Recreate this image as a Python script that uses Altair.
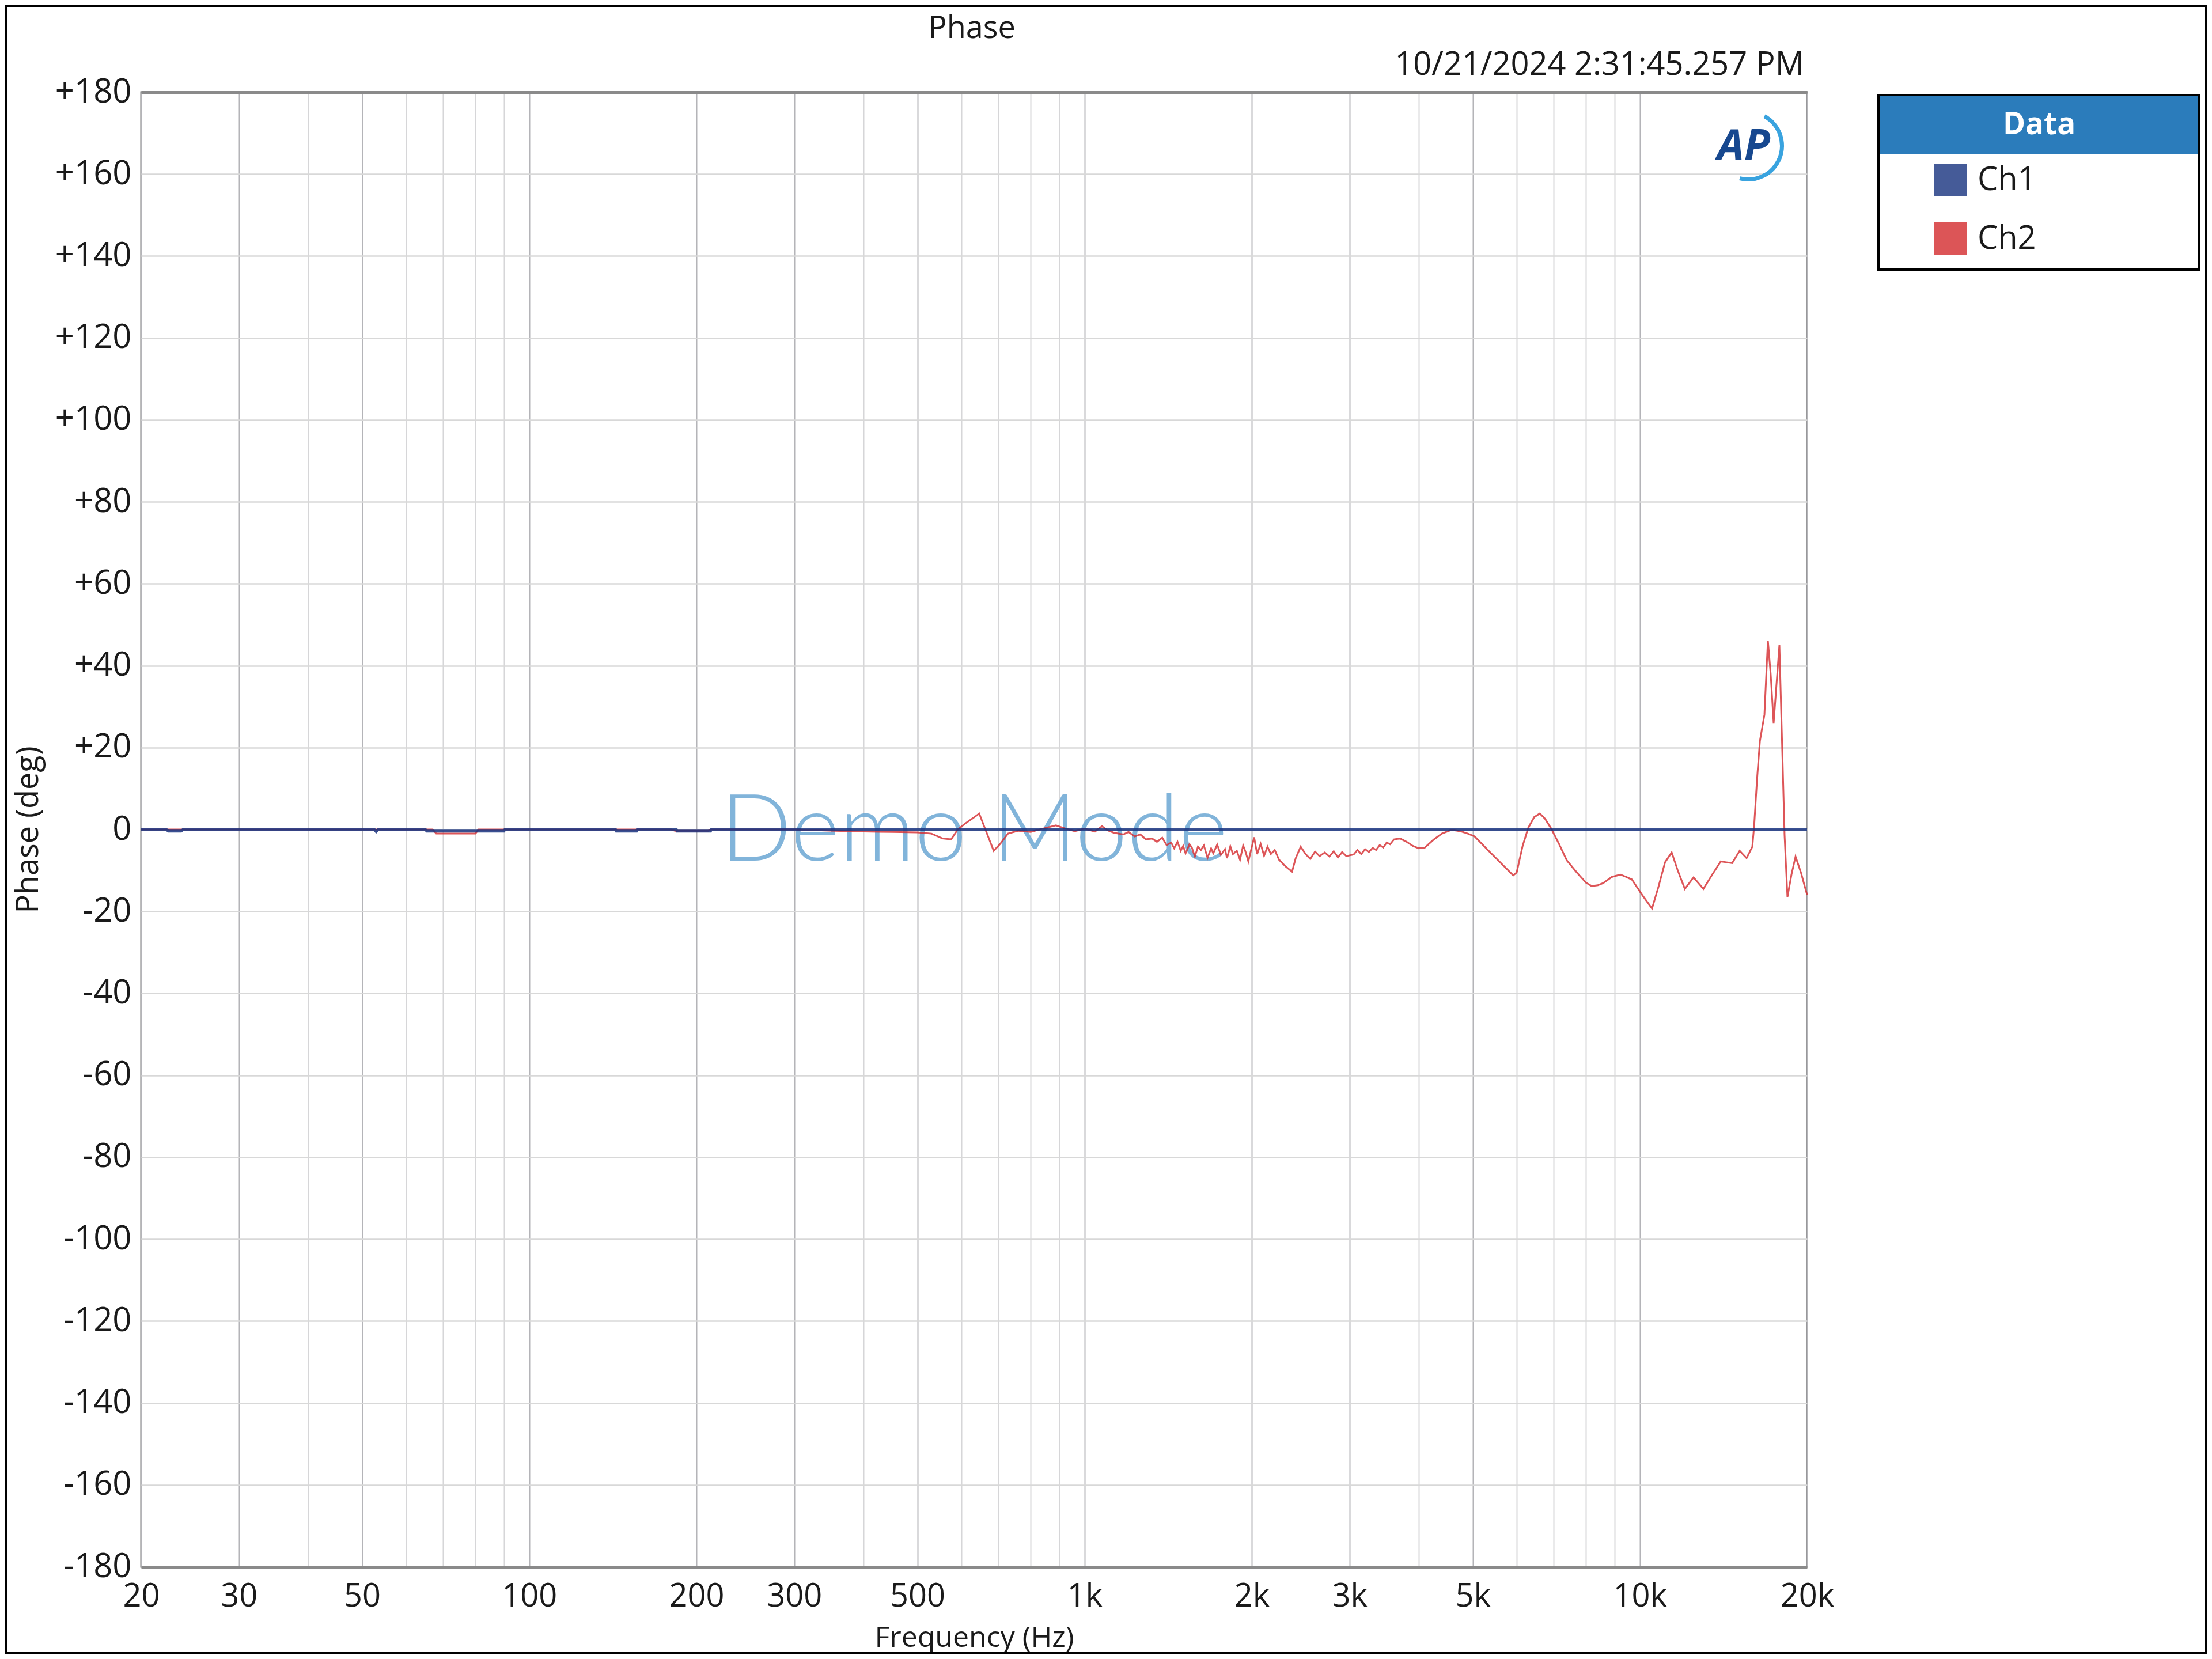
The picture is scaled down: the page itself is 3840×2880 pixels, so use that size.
import altair as alt
import pandas as pd

# ---------------- data ----------------
CH1_FREQ = [20, 22.2, 22.4, 23.6, 23.8, 52.6, 53, 53.4, 65, 65.4, 90, 90.4,
            143, 143.5, 156, 156.5, 184, 184.5, 212, 212.5, 20000]
CH1_PHASE = [0, 0, -0.4, -0.4, 0, 0, -0.5, 0, 0, -0.4, -0.4, 0,
             0, -0.4, -0.4, 0, 0, -0.4, -0.4, 0, 0]

CH2_FREQ = [20, 25, 30, 40, 50, 60, 67, 68, 80, 81, 100, 150, 180, 183, 210, 213,
            250, 300, 355, 400, 450, 500, 530, 555, 575, 591, 610, 630, 646, 665,
            686, 705, 728, 760, 800, 840, 888, 920, 960, 1000, 1044, 1075, 1100,
            1130, 1174, 1200, 1231, 1260, 1290, 1323, 1350, 1380, 1405, 1432, 1450,
            1470, 1490, 1505, 1520, 1545, 1560, 1580, 1600, 1620, 1640, 1665, 1690,
            1705, 1733, 1760, 1790, 1805, 1830, 1850, 1880, 1905, 1930, 1950, 1972,
            2020, 2045, 2075, 2105, 2135, 2165, 2200, 2240, 2300, 2364, 2400, 2450,
            2500, 2550, 2600, 2650, 2708, 2760, 2810, 2860, 2910, 2960, 3052, 3100,
            3150, 3200, 3250, 3302, 3350, 3400, 3450, 3500, 3550, 3608, 3700, 3800,
            3900, 3998, 4100, 4250, 4400, 4581, 4680, 4772, 4900, 5041, 5376, 5650,
            5914, 6000, 6150, 6295, 6450, 6604, 6750, 6925, 7150, 7384, 7700, 8000,
            8186, 8400, 8585, 8900, 9222, 9450, 9673, 10100, 10516, 10800, 11100,
            11410, 11700, 12050, 12495, 13014, 13500, 13984, 14300, 14663, 15125,
            15564, 15941, 16063, 16250, 16449, 16760, 17003, 17200, 17413, 17834,
            18007, 18221, 18440, 18750, 19070, 19500, 20000]
CH2_PHASE = [0, 0, 0, 0, 0, 0, 0, -1.0, -1.0, 0, 0, 0, 0, -0.3, -0.3, 0,
             0, 0, -0.3, -0.5, -0.6, -0.7, -1.0, -2.2, -2.4, 0, 1.5, 2.8, 3.9, -0.5,
             -5.2, -3.5, -1.0, -0.3, -0.6, 0.2, 1.0, 0.3, -0.4, 0.2, -0.5, 0.8, -0.2,
             -0.8, -1.2, -0.6, -1.7, -1.2, -2.4, -2.2, -3.0, -2.0, -3.8, -3.2, -4.6,
             -3.0, -5.2, -4.0, -5.8, -3.6, -4.4, -6.6, -4.2, -5.0, -3.9, -6.9, -4.6,
             -5.8, -3.7, -6.2, -4.8, -7.0, -4.1, -6.0, -5.2, -7.4, -3.9, -5.5, -7.8,
             -1.9, -6.0, -3.5, -6.4, -4.2, -6.0, -5.0, -7.4, -9.0, -10.3, -7.0, -4.2,
             -6.0, -7.2, -5.4, -6.5, -5.6, -6.6, -5.3, -6.8, -5.5, -6.5, -6.1, -5.0,
             -6.0, -4.8, -5.5, -4.5, -5.0, -3.8, -4.4, -3.2, -3.6, -2.4, -2.2, -3.0,
             -4.0, -4.6, -4.4, -2.5, -1.0, -0.1, -0.3, -0.5, -1.0, -1.7, -5.6, -8.5,
             -11.2, -10.5, -4.0, 0.4, 3.0, 3.9, 2.6, 0.2, -3.5, -7.5, -10.5, -13.0,
             -13.8, -13.6, -13.1, -11.6, -11.0, -11.6, -12.2, -16.0, -19.3, -14.0, -8.0,
             -5.6, -10.0, -14.5, -11.7, -14.5, -11.0, -7.8, -8.0, -8.2, -5.2,
             -7.0, -4.2, 1.0, 12.0, 21.6, 28.0, 46.1, 38.0, 26.0, 45.0,
             24.3, -1.4, -16.5, -11.0, -6.6, -10.5, -15.9]

SERIES = ["Ch1", "Ch2"]
SERIES_COLORS = ["#17337f", "#d42b2e"]

X_GRID = [20, 30, 40, 50, 60, 70, 80, 90, 100, 200, 300, 400, 500, 600, 700, 800, 900,
          1000, 2000, 3000, 4000, 5000, 6000, 7000, 8000, 9000, 10000, 20000]
X_LABELED = [20, 30, 50, 100, 200, 300, 500, 1000, 2000, 3000, 5000, 10000, 20000]
Y_TICKS = list(range(-180, 181, 20))

TITLE = "Phase"
TIMESTAMP = "10/21/2024 2:31:45.257 PM"
X_TITLE = "Frequency (Hz)"
Y_TITLE = "Phase (deg)"
LEGEND_TITLE = "Data"
WATERMARK = "Demo Mode"
LOGO = "AP"

# ---------------- layout ----------------
W, H = 2892, 2560
PAD_L, PAD_T, PAD_R, PAD_B = 237, 152, 695, 152
FONT = "Open Sans"

df1 = pd.DataFrame({"freq": CH1_FREQ, "phase": CH1_PHASE, "ch": "Ch1"})
df2 = pd.DataFrame({"freq": CH2_FREQ, "phase": CH2_PHASE, "ch": "Ch2"})

labeled_js = "[" + ",".join(str(v) for v in X_LABELED) + "]"

x_enc = alt.X(
    "freq:Q",
    scale=alt.Scale(type="log", domain=[20, 20000], nice=False),
    axis=alt.Axis(
        values=X_GRID,
        labelExpr=f"indexof({labeled_js}, datum.value) >= 0 ? (datum.value >= 1000 ? (datum.value/1000) + 'k' : datum.value + '') : ''",
        title=X_TITLE,
        titleX=W / 2,
        titleY=138,
        titleFontSize=50,
        titleBaseline="alphabetic",
        labelBaseline="alphabetic",
        labelFontSize=56,
        labelPadding=68,
        labelFlush=False,
        labelOverlap=False,
        gridColor={"condition": {"test": f"indexof({labeled_js}, datum.value) >= 0", "value": "#b4b4b8"}, "value": "#d6d6d8"},
        gridWidth=2,
    ),
)
y_enc = alt.Y(
    "phase:Q",
    scale=alt.Scale(domain=[-180, 180], nice=False),
    axis=alt.Axis(
        values=Y_TICKS,
        labelExpr="datum.value > 0 ? '+' + datum.value : '' + datum.value",
        title=Y_TITLE,
        titleX=-196,
        titleY=H / 2,
        titleAngle=270,
        titleBaseline="middle",
        titleAlign="center",
        labelPadding=17,
        gridColor={"condition": {"test": "abs(datum.value) == 180", "value": "#8a8a8a"}, "value": "#d8d8d8"},
        gridWidth={"condition": {"test": "abs(datum.value) == 180", "value": 5}, "value": 2.5},
    ),
)
color_enc = alt.Color(
    "ch:N",
    scale=alt.Scale(domain=SERIES, range=SERIES_COLORS),
    legend=alt.Legend(
        title=None,
        orient="none",
        legendX=3112,
        legendY=124,
        symbolType="square",
        symbolSize=812,
        symbolStrokeWidth=28.5,
        labelFont=FONT,
        labelFontSize=56,
        labelColor="#1a1a1a",
        labelOffset=19,
        clipHeight=57,
        rowPadding=45,
        padding=0,
    ),
)

one = pd.DataFrame({"k": [0]})

frame = alt.Chart(one).mark_rect(fill="transparent", stroke="#000000", strokeWidth=4).encode(
    x=alt.value(-PAD_L + 2), x2=alt.value(W + PAD_R - 2),
    y=alt.value(-PAD_T + 2), y2=alt.value(H + PAD_B - 2),
)
legend_box = alt.Chart(one).mark_rect(fill="#ffffff", stroke="#000000", strokeWidth=4).encode(
    x=alt.value(3016), x2=alt.value(3573), y=alt.value(5), y2=alt.value(308),
)
legend_head = alt.Chart(one).mark_rect(fill="#2b7cbb").encode(
    x=alt.value(3018), x2=alt.value(3571), y=alt.value(7), y2=alt.value(107),
)
legend_title = alt.Chart(one).mark_text(
    text=LEGEND_TITLE, font=FONT, fontSize=53, fontWeight="bold", color="#ffffff",
    align="center", baseline="alphabetic",
).encode(x=alt.value(3295), y=alt.value(73))

watermark = alt.Chart(one).mark_text(
    text=WATERMARK, font="Lato", fontSize=162, fontWeight=300, color="#74acd6", opacity=0.9,
    align="center", baseline="alphabetic",
).encode(x=alt.value(W / 2), y=alt.value(1334))

line2 = alt.Chart(df2).mark_line(strokeWidth=3, opacity=0.8, interpolate="linear").encode(
    x=x_enc, y=y_enc, color=color_enc)
line1 = alt.Chart(df1).mark_line(strokeWidth=5, opacity=0.85).encode(
    x=x_enc, y=y_enc, color=color_enc)

title = alt.Chart(one).mark_text(
    text=TITLE, font=FONT, fontSize=54, color="#1a1a1a", align="center", baseline="alphabetic",
).encode(x=alt.value(W / 2 - 4), y=alt.value(-94))
stamp = alt.Chart(one).mark_text(
    text=TIMESTAMP, font=FONT, fontSize=56, color="#1a1a1a", align="right", baseline="alphabetic",
).encode(x=alt.value(W - 5), y=alt.value(-30))

logo_arc = alt.Chart(one).mark_arc(
    radius=62, radius2=55, theta=0.5, theta2=3.4, color="#39a3df",
).encode(x=alt.value(2790), y=alt.value(93))
logo = alt.Chart(one).mark_text(
    text=LOGO, font=FONT, fontSize=74, fontWeight="bold", fontStyle="italic", color="#17488f",
    align="center", baseline="middle",
).encode(x=alt.value(2782), y=alt.value(95))

chart = alt.layer(
    frame, legend_box, legend_head, watermark, line2, line1,
    title, stamp, legend_title, logo_arc, logo,
).properties(
    width=W, height=H,
    autosize=alt.AutoSizeParams(type="none"),
    padding={"left": PAD_L, "top": PAD_T, "right": PAD_R, "bottom": PAD_B},
    background="#ffffff",
).configure_view(
    stroke="#7c7c7c", strokeWidth=3,
).configure_axis(
    labelFont=FONT, labelFontSize=58, labelColor="#1a1a1a",
    titleFont=FONT, titleFontSize=54, titleFontWeight="normal", titleColor="#1a1a1a",
    ticks=False, tickSize=0, domain=False,
)

chart.save("out.html", embed_options={"renderer": "svg", "actions": False})
